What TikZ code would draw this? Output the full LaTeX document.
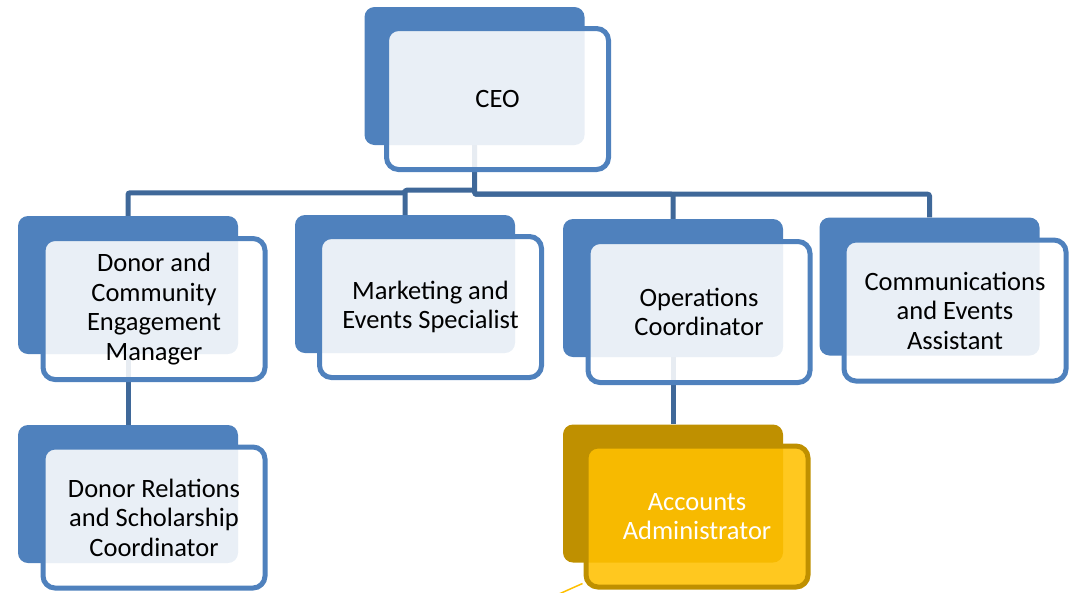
\documentclass[tikz,border=0pt]{standalone}
\usepackage{fontspec}
\setmainfont{Carlito}
\usepackage{tikz}
\definecolor{blue500}{HTML}{4F81BD}
\definecolor{blue700}{HTML}{3F6899}
\definecolor{gold500}{HTML}{FFC000}
\definecolor{gold700}{HTML}{BF9000}
\tikzstyle{cardback}=[rectangle, rounded corners=10pt, fill=blue500, minimum width=220pt, minimum height=138pt, inner sep=0pt]
\tikzstyle{cardfront}=[rectangle, rounded corners=12pt, draw=blue500, line width=5pt, fill=white, fill opacity=0.88, text opacity=1, minimum width=222pt, minimum height=141pt, inner sep=0pt, align=center, font=\fontsize{26.5}{29.5}\selectfont]
\tikzstyle{goldback}=[cardback, fill=gold700]
\tikzstyle{goldfront}=[cardfront, draw=gold700, fill=gold500, text=white]
\tikzstyle{conector}=[draw=blue700, line width=5pt, rounded corners=2pt]

\begin{document}
\begin{tikzpicture}[x=1pt, y=-1pt]
	\useasboundingbox (0,0) rectangle (1073,592);
	% back cards
	\node[cardback] (ceoB) at (474.5,76) {};
	\node[cardback] (dcemB) at (128,285) {};
	\node[cardback] (mktB) at (405,284) {};
	\node[cardback] (opsB) at (673,288) {};
	\node[cardback] (commB) at (929.5,286.5) {};
	\node[cardback] (drscB) at (128,494) {};
	\node[goldback] (accB) at (673,493.5) {};
	% connectors
	\draw[conector] (ceoB.south) -- ++(0,49) -| (commB.north);
	\draw[conector] (ceoB.south) ++(0,49) -| (opsB.north);
	\draw[conector] (ceoB.south) ++(0,45) -| (mktB.north);
	\draw[conector] (mktB.north) ++(0,-24) -- ++(0,2) -| (dcemB.north);
	\draw[conector] (dcemB.south) -- (drscB.north);
	\draw[conector] (opsB.south) -- (accB.north);
	% front cards
	\node[cardfront] (ceo) at (497.5,99) {CEO};
	\node[cardfront] (dcem) at (154,309) {Donor and\\Community\\Engagement\\Manager};
	\node[cardfront] (mkt) at (430.5,307) {Marketing and\\Events Specialist};
	\node[cardfront] (ops) at (699,312) {Operations\\Coordinator};
	\node[cardfront] (comm) at (955,310.5) {Communications\\and Events\\Assistant};
	\node[cardfront] (drsc) at (154,517.5) {Donor Relations\\and Scholarship\\Coordinator};
	\node[goldfront] (acc) at (697,516.5) {Accounts\\Administrator};
	\coordinate (tail) at (550,598);
	\draw[gold500, line width=1.5pt] (acc.south west) ++(-1,-6) -- (tail);
\end{tikzpicture}
\end{document}
